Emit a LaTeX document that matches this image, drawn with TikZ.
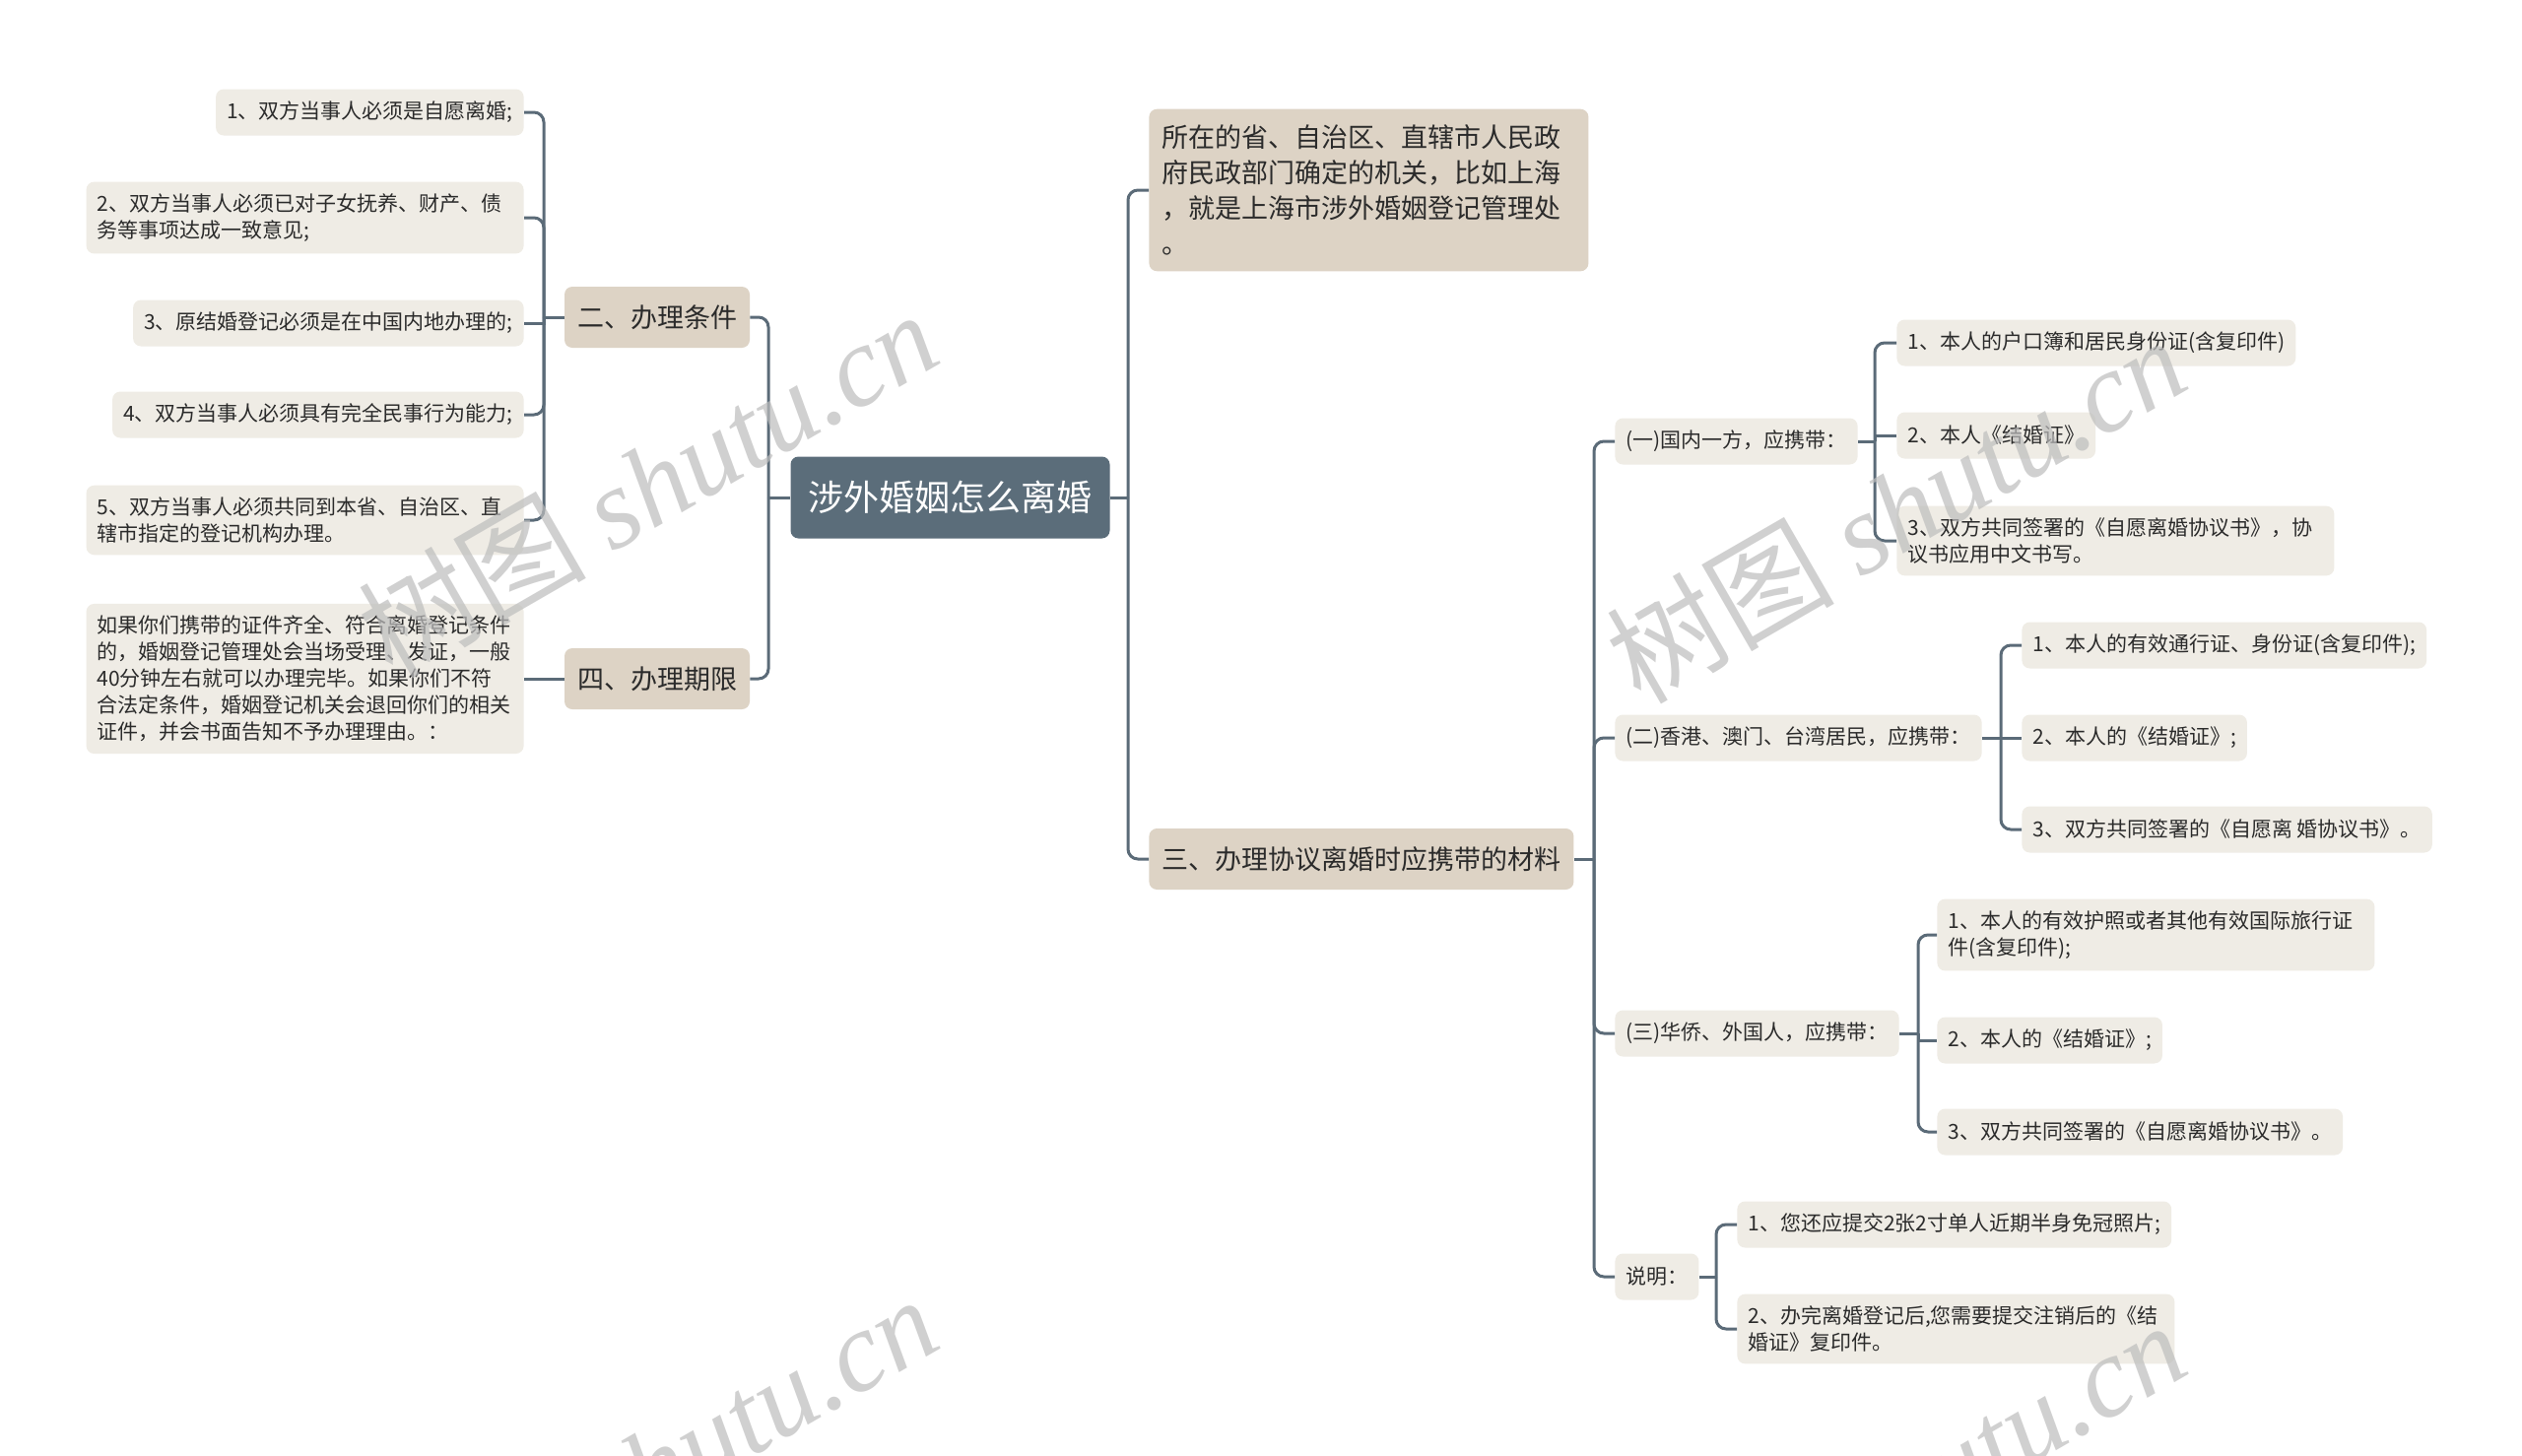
\documentclass[tikz,border=0pt]{standalone}
\usepackage{fontspec}
\setmainfont{Noto Sans CJK SC}
\newfontfamily\wmlatin{Liberation Serif}
\definecolor{linec}{HTML}{5B6B78}
\definecolor{rootc}{HTML}{5B6D7A}
\definecolor{lvla}{HTML}{DDD3C5}
\definecolor{leafc}{HTML}{EFECE5}
\definecolor{txtc}{HTML}{2B2B2B}
\definecolor{wmc}{HTML}{BDBDBD}
\newcommand\mmkid[2]{\draw[conn,rc] (#1) -- (#2 -| #1) -- (#2);}
\newcommand\mmstraight[2]{\draw[conn] (#1) -- (#2 -| #1) -- (#2);}
\begin{document}
\begin{tikzpicture}[x=0.5pt,y=-0.5pt,
 nbox/.style={rounded corners=4pt, text=txtc, inner xsep=5.5pt, inner ysep=6pt, align=left},
 rootbox/.style={nbox, fill=rootc, text=white, font=\fontsize{18pt}{22pt}\selectfont, inner xsep=9pt, minimum height=41.5pt},
 lvlone/.style={nbox, fill=lvla, font=\fontsize{13.5pt}{18pt}\selectfont, inner xsep=6.5pt, minimum height=31pt},
 leafbox/.style={nbox, fill=leafc, font=\fontsize{10.5pt}{13.5pt}\selectfont, minimum height=23.5pt},
 wide/.style={text width=211pt},
 conn/.style={draw=linec, line width=1.5pt},
 rc/.style={rounded corners=5pt}]
\useasboundingbox (0,0) rectangle (2560,1478);
\fill[white] (0,0) rectangle (2560,1478);

% root and first level
\node[rootbox] (root) at (964.5,505) {涉外婚姻怎么离婚};
\node[lvlone] (c2) at (667,322) {二、办理条件};
\node[lvlone] (c4) at (667,689) {四、办理期限};
\node[lvlone, anchor=west, text width=210pt, inner ysep=8pt] (c1) at (1166,193) {所在的省、自治区、直辖市人民政\\府民政部门确定的机关，比如上海\\，就是上海市涉外婚姻登记管理处\\。};
\node[lvlone, anchor=west] (c3) at (1166,872) {三、办理协议离婚时应携带的材料};

% left leaves
\node[leafbox, anchor=east] (l1) at (532,114) {1、双方当事人必须是自愿离婚;};
\node[leafbox, anchor=east, wide] (l2) at (532,221) {2、双方当事人必须已对子女抚养、财产、债\\务等事项达成一致意见;};
\node[leafbox, anchor=east] (l3) at (532,328) {3、原结婚登记必须是在中国内地办理的;};
\node[leafbox, anchor=east] (l4) at (532,421) {4、双方当事人必须具有完全民事行为能力;};
\node[leafbox, anchor=east, wide] (l5) at (532,528) {5、双方当事人必须共同到本省、自治区、直\\辖市指定的登记机构办理。};
\node[leafbox, anchor=east, wide] (p1) at (532,689) {如果你们携带的证件齐全、符合离婚登记条件\\的，婚姻登记管理处会当场受理、发证，一般\\40分钟左右就可以办理完毕。如果你们不符\\合法定条件，婚姻登记机关会退回你们的相关\\证件，并会书面告知不予办理理由。：};

% right second level
\node[leafbox, anchor=west] (s1) at (1639,448) {(一)国内一方，应携带：};
\node[leafbox, anchor=west] (s2) at (1639,749) {(二)香港、澳门、台湾居民，应携带：};
\node[leafbox, anchor=west] (s3) at (1639,1049) {(三)华侨、外国人，应携带：};
\node[leafbox, anchor=west] (s4) at (1639,1296) {说明：};

% right leaves
\node[leafbox, anchor=west] (a1) at (1925,348) {1、本人的户口簿和居民身份证(含复印件)};
\node[leafbox, anchor=west] (a2) at (1925,442) {2、本人《结婚证》};
\node[leafbox, anchor=west, wide] (a3) at (1925,549) {3、双方共同签署的《自愿离婚协议书》，协\\议书应用中文书写。};
\node[leafbox, anchor=west] (b1) at (2052,655) {1、本人的有效通行证、身份证(含复印件);};
\node[leafbox, anchor=west] (b2) at (2052,749) {2、本人的《结婚证》;};
\node[leafbox, anchor=west] (b3) at (2052,842) {3、双方共同签署的《自愿离 婚协议书》。};
\node[leafbox, anchor=west, wide] (d1) at (1966,949) {1、本人的有效护照或者其他有效国际旅行证\\件(含复印件);};
\node[leafbox, anchor=west] (d2) at (1966,1056) {2、本人的《结婚证》;};
\node[leafbox, anchor=west] (d3) at (1966,1149) {3、双方共同签署的《自愿离婚协议书》。};
\node[leafbox, anchor=west] (e1) at (1763,1243) {1、您还应提交2张2寸单人近期半身免冠照片;};
\node[leafbox, anchor=west, wide] (e2) at (1763,1349) {2、办完离婚登记后,您需要提交注销后的《结\\婚证》复印件。};

% trunk x positions
\coordinate (xR0) at (780,0);
\coordinate (xR1) at (1145,0);
\coordinate (xA) at (552,0);
\coordinate (xB) at (1618,0);
\coordinate (xC1) at (1903,0);
\coordinate (xC2) at (2031,0);
\coordinate (xC3) at (1947,0);
\coordinate (xC4) at (1742,0);
\coordinate (jR0) at (root.west -| xR0);
\coordinate (jR1) at (root.east -| xR1);
\coordinate (jA) at (c2.west -| xA);
\coordinate (jB) at (c3.east -| xB);
\coordinate (jC1) at (s1.east -| xC1);
\coordinate (jC2) at (s2.east -| xC2);
\coordinate (jC3) at (s3.east -| xC3);
\coordinate (jC4) at (s4.east -| xC4);

% connectors: root
\draw[conn] (root.west) -- (jR0);
\mmkid{jR0}{c2.east}
\mmkid{jR0}{c4.east}
\draw[conn] (root.east) -- (jR1);
\mmkid{jR1}{c1.west}
\mmkid{jR1}{c3.west}
% 二
\draw[conn] (c2.west) -- (jA);
\mmkid{jA}{l1.east}
\mmkid{jA}{l2.east}
\mmstraight{jA}{l3.east}
\mmkid{jA}{l4.east}
\mmkid{jA}{l5.east}
% 四
\draw[conn] (c4.west) -- (p1.east);
% 三
\draw[conn] (c3.east) -- (jB);
\mmkid{jB}{s1.west}
\mmkid{jB}{s2.west}
\mmkid{jB}{s3.west}
\mmkid{jB}{s4.west}
% (一)
\draw[conn] (s1.east) -- (jC1);
\mmkid{jC1}{a1.west}
\mmstraight{jC1}{a2.west}
\mmkid{jC1}{a3.west}
% (二)
\draw[conn] (s2.east) -- (jC2);
\mmkid{jC2}{b1.west}
\draw[conn] (jC2) -- (b2.west);
\mmkid{jC2}{b3.west}
% (三)
\draw[conn] (s3.east) -- (jC3);
\mmkid{jC3}{d1.west}
\mmstraight{jC3}{d2.west}
\mmkid{jC3}{d3.west}
% 说明
\draw[conn] (s4.east) -- (jC4);
\mmkid{jC4}{e1.west}
\mmkid{jC4}{e2.west}

% watermarks
\begin{scope}
\clip (0,0) rectangle (2560,1478);
\foreach \wx/\wy [count=\wi] in {657/490, 1924/516, 657/1490, 1924/1516}
  \node[rotate=30, text=wmc, opacity=0.7, font=\fontsize{58pt}{58pt}\selectfont] (wm\wi) at (\wx,\wy) {树图 {\wmlatin\itshape shutu.cn}};
\end{scope}
\end{tikzpicture}
\end{document}
